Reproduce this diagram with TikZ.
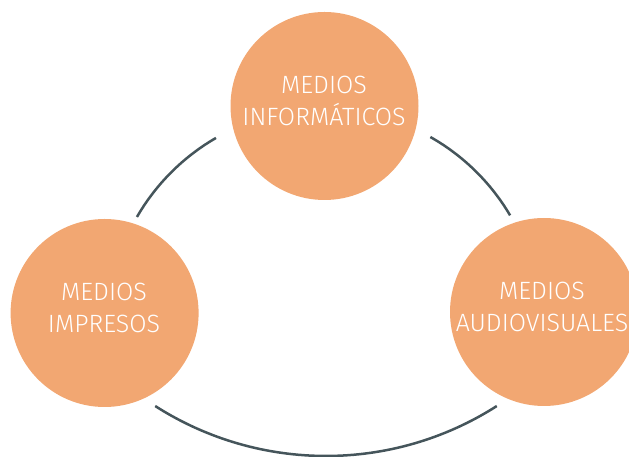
\documentclass[tikz,border=0pt]{standalone}
\usepackage{fontspec}
\setmainfont{Fira Sans Light}
\definecolor{orangefill}{HTML}{F2A772}
\definecolor{arcline}{HTML}{45555B}
\begin{document}
\begin{tikzpicture}[x=1pt,y=1pt,
  circ/.style={circle,fill=orangefill,draw=none,minimum size=188pt,inner sep=0pt},
  lab/.style={text=white,align=center,font=\fontsize{25}{32}\selectfont},
  conn/.style={draw=arcline,line width=2.5pt}]
\useasboundingbox (0,0) rectangle (629,457);
\clip (0,0) rectangle (629,457);
\coordinate (ring) at (324,132);
\coordinate (lowring) at (326,318);
\node[circ] (top) at (324.5,351) {};
\node[circ] (left) at (104.6,144) {};
\node[circ] (right) at (544,145) {};
\node[lab] (toplab) at (324,356) {MEDIOS\\INFORMÁTICOS};
\node[lab] (leftlab) at (104,149) {MEDIOS\\IMPRESOS};
\node[lab] (rightlab) at (542,150) {MEDIOS\\AUDIOVISUALES};
\draw[conn] ([shift={(120:216)}]ring) arc[start angle=120,end angle=150,radius=216];
\draw[conn] ([shift={(30.5:216)}]ring) arc[start angle=30.5,end angle=60.5,radius=216];
\draw[conn] ([shift={(237.4:317)}]lowring) arc[start angle=237.4,end angle=302.6,radius=317];
\end{tikzpicture}
\end{document}
